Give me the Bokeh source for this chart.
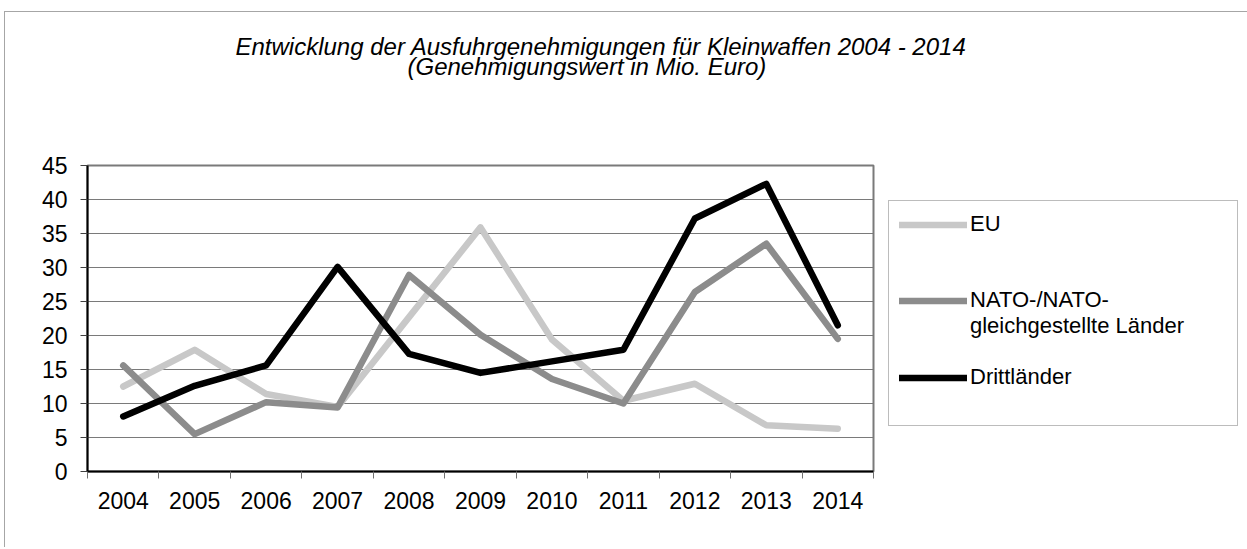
from bokeh.plotting import figure
from bokeh.models import FixedTicker, Legend, LegendItem, Range1d, Title
from bokeh.embed import file_html
from bokeh.resources import INLINE

# ---- data ----
years = ["2004", "2005", "2006", "2007", "2008", "2009", "2010", "2011", "2012", "2013", "2014"]
eu = [12.5, 17.9, 11.4, 9.5, 22.7, 35.9, 19.4, 10.4, 12.9, 6.8, 6.3]
nato = [15.6, 5.5, 10.2, 9.4, 28.9, 20.1, 13.6, 10.0, 26.4, 33.5, 19.5]
dritt = [8.1, 12.6, 15.6, 30.1, 17.3, 14.5, 16.2, 17.9, 37.2, 42.3, 21.5]
legend_labels = ["EU", "NATO-/NATO-", "gleichgestellte Länder", "Drittländer"]
title_lines = ["Entwicklung der Ausfuhrgenehmigungen für Kleinwaffen 2004 - 2014",
               "(Genehmigungswert in Mio. Euro)"]
y_ticks = [0, 5, 10, 15, 20, 25, 30, 35, 40, 45]

FONT = "Liberation Sans"
xs = [i + 0.5 for i in range(len(years))]
bounds = list(range(len(years) + 1))

p = figure(frame_width=786, frame_height=306, output_backend="svg", toolbar_location=None,
           x_range=Range1d(0, len(years)), y_range=Range1d(y_ticks[0], y_ticks[-1]),
           min_border_left=82, min_border_right=0, min_border_top=153, min_border_bottom=76,
           background_fill_color="white", border_fill_color="white")
p.styles = {"margin-left": "4px", "margin-top": "11px",
            "border-left": "1px solid #a6a6a6", "border-top": "1px solid #a6a6a6"}

# axes
p.xaxis.ticker = FixedTicker(ticks=xs, minor_ticks=bounds)
p.xaxis.major_label_overrides = {x: y for x, y in zip(xs, years)}
p.xaxis.major_tick_out = 0
p.xaxis.major_tick_in = 0
p.xaxis.minor_tick_out = 7
p.xaxis.minor_tick_in = 0
p.xaxis.minor_tick_line_color = "#707070"
p.xaxis.minor_tick_line_width = 1
p.xaxis.axis_line_color = "black"
p.xaxis.axis_line_width = 2
p.xaxis.major_label_standoff = 13

p.yaxis.ticker = FixedTicker(ticks=y_ticks)
p.yaxis.major_tick_out = 7
p.yaxis.major_tick_in = 0
p.yaxis.minor_tick_line_color = None
p.yaxis.major_tick_line_color = "#404040"
p.yaxis.axis_line_color = "black"
p.yaxis.axis_line_width = 2
p.yaxis.major_label_standoff = 13

for ax in (p.xaxis, p.yaxis):
    ax.major_label_text_font = FONT
    ax.major_label_text_font_size = "23px"
    ax.major_label_text_color = "black"

p.xgrid.visible = False
p.ygrid.ticker = FixedTicker(ticks=y_ticks)
p.ygrid.grid_line_color = "#7a7a7a"
p.ygrid.grid_line_width = 1

p.outline_line_color = "#7a7a7a"
p.outline_line_width = 2

# series
r_eu = p.line(xs, eu, line_color="#c8c8c8", line_width=6.5, line_join="round", line_cap="round")
r_nato = p.line(xs, nato, line_color="#8c8c8c", line_width=6.5, line_join="round", line_cap="round")
r_dritt = p.line(xs, dritt, line_color="black", line_width=6.5, line_join="round", line_cap="round")
dummy = p.line([], [], line_alpha=0)

# title: spacer nearest the frame, then line 2, then line 1
p.add_layout(Title(text=" ", text_font_size="2px", standoff=91), "above")
p.add_layout(Title(text=title_lines[1], align="left", offset=320, standoff=-18,
                   vertical_align="bottom", text_font=FONT, text_font_size="24px",
                   text_font_style="italic", text_color="black"), "above")
p.add_layout(Title(text=title_lines[0], align="left", offset=148, standoff=0,
                   vertical_align="bottom", text_font=FONT, text_font_size="24px",
                   text_font_style="italic", text_color="black"), "above")

legend = Legend(items=[
    LegendItem(label=legend_labels[0], renderers=[r_eu]),
    LegendItem(label=" ", renderers=[dummy]),
    LegendItem(label=" ", renderers=[dummy]),
    LegendItem(label=legend_labels[1], renderers=[r_nato]),
    LegendItem(label=legend_labels[2], renderers=[dummy]),
    LegendItem(label=" ", renderers=[dummy]),
    LegendItem(label=legend_labels[3], renderers=[r_dritt]),
    LegendItem(label=" ", renderers=[dummy]),
], location=(15, 45), padding=10, spacing=0, label_height=25, glyph_height=25,
    glyph_width=68, label_standoff=3, label_width=257,
    border_line_color="#7a7a7a", border_line_width=1, background_fill_color="white",
    margin=12, label_text_font=FONT, label_text_font_size="22px", label_text_color="black")
p.add_layout(legend, "right")

open("out.html", "w").write(file_html(p, INLINE))
